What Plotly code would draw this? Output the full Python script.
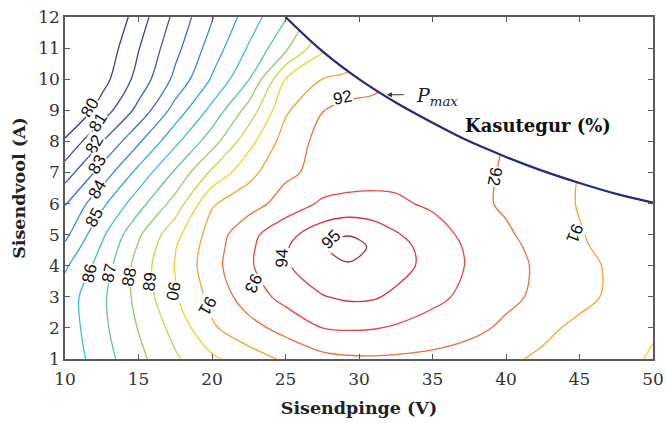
import plotly.graph_objects as go

# ---------------- data ----------------
VOLT = [10, 12.5, 15, 17.5, 20, 22.5, 25, 27.5, 29.25, 31, 32.5, 35, 37.5, 40, 42.5, 45, 47.5, 50]
CURR = [1, 2, 3, 4, 4.6, 5, 6, 7, 8, 9, 10, 11, 12]

EFF_I1 = [85.3, 86.55, 87.73, 88.86, 89.81, 90.54, 91.15, 91.7, 91.85, 91.88, 91.85, 91.75, 91.5, 91.15, 90.85, 90.55, 90.3, 89.9]
EFF_I2 = [85.45, 86.75, 88.05, 89.33, 90.87, 91.65, 92.35, 93.0, 93.1, 93.05, 92.9, 92.6, 92.3, 91.8, 91.2, 90.8, 90.45, 90.1]
EFF_I3 = [85.5, 86.8, 88.3, 89.9, 91.3, 92.5, 93.3, 93.95, 94.15, 94.1, 93.8, 93.25, 92.75, 92.25, 91.75, 91.25, 90.8, 90.5]
EFF_I4 = [84.85, 86.4, 88.4, 90.05, 91.65, 92.85, 93.9, 94.6, 94.9, 94.75, 94.4, 93.65, 92.9, 92.35, 91.8, 91.3, 90.8, 90.45]
EFF_I46 = [84.2, 86.1, 88.1, 89.95, 91.55, 92.8, 93.9, 94.9, 95.4, 94.85, 94.35, 93.6, 92.85, 92.25, 91.7, 91.1, 90.75, 90.45]
EFF_I5 = [83.75, 85.8, 87.85, 89.7, 91.45, 92.7, 93.7, 94.55, 94.95, 94.6, 94.1, 93.4, 92.75, 92.15, 91.55, 91.05, 90.7, 90.45]
EFF_I6 = [82.95, 84.75, 86.6, 88.4, 90.9, 91.58, 92.4, 93.15, 93.25, 93.25, 93.15, 92.85, 92.3, 91.85, 91.4, 90.95, 90.7, 90.5]
EFF_I7 = [81.5, 83.4, 85.3, 87.15, 89.2, 90.7, 91.8, 92.3, 92.55, 92.65, 92.7, 92.6, 92.3, 91.9, 91.4, 91.0, 90.75, 90.5]
EFF_I8 = [80.15, 81.95, 83.85, 85.75, 87.55, 89.65, 91.45, 92.3, 92.35, 92.45, 92.5, 92.5, 92.3, 91.98, 91.6, 91.25, 90.9, 90.6]
EFF_I9 = [78.8, 80.45, 82.3, 84.4, 86.3, 88.4, 90.85, 91.97, 92.4, 92.4, 92.35, 92.4, 92.45, 92.1, 91.75, 91.4, 91.0, 90.65]
EFF_I10 = [77.8, 79.6, 81.35, 83.25, 85.1, 86.95, 90.0, 91.0, 91.15, 91.6, 92.0, 92.3, 92.4, 92.2, 91.85, 91.45, 91.05, 90.7]
EFF_I11 = [77.5, 79.2, 80.95, 82.7, 84.45, 86.1, 87.8, 89.8, 90.5, 91.1, 91.5, 92.0, 92.25, 92.2, 91.85, 91.45, 91.05, 90.7]
EFF_I12 = [77.0, 78.7, 80.5, 82.25, 83.93, 85.47, 86.9, 88.8, 89.7, 90.5, 91.1, 91.8, 92.1, 92.1, 91.8, 91.4, 91.0, 90.7]

LEVELS = list(range(80, 96))
LEVEL_COLORS = ["#3c3c9c", "#3a47a8", "#3a59bc", "#3d6fcc", "#3e8ade", "#36a6e6",
                "#3cbfd2", "#5ec59e", "#92cc6a", "#cbd545", "#f2cf2e", "#f5a232",
                "#f06c3c", "#e84444", "#d6324a", "#a8323e"]

PMAX_V = [25, 27.5, 30, 32.5, 35, 37.5, 40, 42.5, 45, 47.5, 50]
PMAX_I = [12.0, 10.9, 10.0, 9.25, 8.6, 8.0, 7.5, 7.05, 6.66, 6.31, 6.03]

X_TICKS = [10, 15, 20, 25, 30, 35, 40, 45, 50]
Y_TICKS = [1, 2, 3, 4, 5, 6, 7, 8, 9, 10, 11, 12]
X_RANGE = [10, 50]
Y_RANGE = [1, 12]

EFF = [EFF_I1, EFF_I2, EFF_I3, EFF_I4, EFF_I46, EFF_I5, EFF_I6, EFF_I7,
       EFF_I8, EFF_I9, EFF_I10, EFF_I11, EFF_I12]

# ---------------- figure ----------------
lo, hi = LEVELS[0], LEVELS[-1]
colorscale = [[(lv - lo) / (hi - lo), c] for lv, c in zip(LEVELS, LEVEL_COLORS)]

fig = go.Figure()
fig.add_trace(go.Contour(
    x=VOLT, y=CURR, z=EFF,
    contours=dict(start=lo, end=hi, size=1, coloring="lines", showlabels=False),
    colorscale=colorscale, zmin=lo, zmax=hi, zauto=False, showscale=False,
    line=dict(width=1.3, smoothing=1.0), hoverinfo="skip"))

# blank the region above the P_max curve
fig.add_trace(go.Scatter(
    x=PMAX_V + [X_RANGE[1] + 1, X_RANGE[1] + 1, PMAX_V[0]],
    y=PMAX_I + [PMAX_I[-1], Y_RANGE[1] + 1, Y_RANGE[1] + 1],
    mode="lines", fill="toself", fillcolor="white", line=dict(width=0),
    hoverinfo="skip", showlegend=False))

fig.add_trace(go.Scatter(
    x=PMAX_V, y=PMAX_I, mode="lines",
    line=dict(color="#28287e", width=2.2, shape="spline"),
    hoverinfo="skip", showlegend=False))

# contour labels (text, V, I, rotation)
labels = [
    ("80", 11.7, 9.1, -60), ("81", 12.25, 8.6, -58), ("82", 12.0, 7.9, -60),
    ("83", 12.2, 7.25, -60), ("84", 12.2, 6.45, -60), ("85", 12.0, 5.55, -62),
    ("86", 11.7, 3.77, -78), ("87", 13.05, 3.77, -78), ("88", 14.4, 3.64, -80),
    ("89", 15.8, 3.48, -84), ("90", 17.35, 3.2, 100), ("91", 19.7, 2.7, 120),
    ("93", 22.8, 3.45, 115), ("94", 24.8, 4.25, -88), ("95", 28.1, 4.83, -45),
    ("92", 28.9, 9.42, -12), ("92", 39.25, 6.85, 100), ("91", 44.7, 5.05, 112),
]
for txt, xv, yv, ang in labels:
    fig.add_annotation(x=xv, y=yv, text=txt, showarrow=False, textangle=ang,
                       font=dict(family="Liberation Sans", size=17, color="#111"),
                       bgcolor="white", borderpad=0)

fig.add_annotation(x=42.2, y=8.52, text="<b>Kasutegur (%)</b>", showarrow=False,
                   font=dict(family="DejaVu Serif", size=18, color="#111"))
fig.add_annotation(x=31.9, y=9.5, ax=20, ay=0, axref="pixel", ayref="pixel", text=" ",
                   showarrow=True, arrowhead=2, arrowsize=1, arrowwidth=1, arrowcolor="#333")
fig.add_annotation(x=35.3, y=9.45, text="<i>P</i><sub><i>max</i></sub>", showarrow=False,
                   font=dict(family="DejaVu Serif", size=19, color="#222"))

axis_common = dict(showline=True, linecolor="#5a5a5a", linewidth=1.5, mirror="allticks",
                   ticks="inside", ticklen=5, tickcolor="#5a5a5a", showgrid=False,
                   zeroline=False, automargin=False,
                   tickfont=dict(family="DejaVu Serif", size=17, color="#333"))
fig.update_xaxes(range=X_RANGE, tickvals=X_TICKS, ticklabelstandoff=4, **axis_common,
                 title=dict(text="<b>Sisendpinge (V)</b>", standoff=14,
                            font=dict(family="DejaVu Serif", size=17.5, color="#222")))
fig.update_yaxes(range=Y_RANGE, tickvals=Y_TICKS, **axis_common,
                 title=dict(text="<b>Sisendvool (A)</b>", standoff=8,
                            font=dict(family="DejaVu Serif", size=17.5, color="#222")))

fig.update_layout(width=667, height=423, margin=dict(l=65, r=14, t=17, b=64),
                  plot_bgcolor="white", paper_bgcolor="white", showlegend=False)

fig.write_html("out.html")
